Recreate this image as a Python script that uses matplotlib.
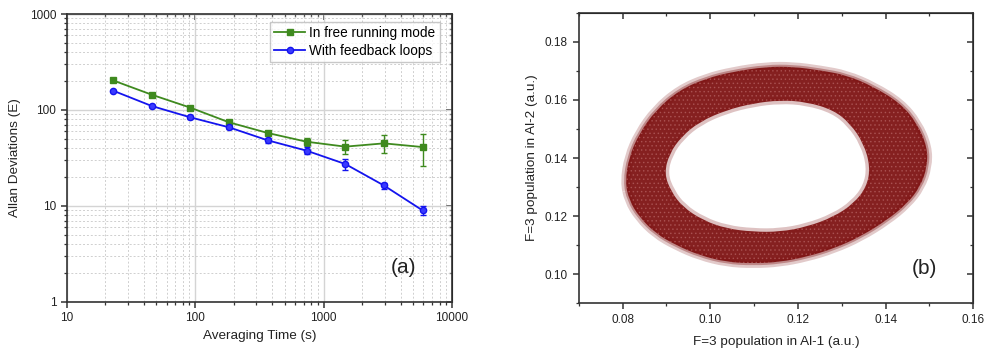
import matplotlib
matplotlib.use("Agg")
import matplotlib.pyplot as plt
from matplotlib.path import Path
from matplotlib.patches import PathPatch
from matplotlib.lines import Line2D
from matplotlib.ticker import LogLocator, NullFormatter, MultipleLocator, FixedLocator
import numpy as np

plt.rcParams['font.family'] = ['Liberation Sans', 'DejaVu Sans']
plt.rcParams['hatch.linewidth'] = 0.6

# ---------------- data: panel (a) ----------------
tau = [23, 46, 92, 184, 369, 737, 1475, 2950, 5900]
free_dev = [203, 144, 105.5, 74.2, 57.4, 46.6, 41.4, 44.8, 41.0]
free_err = [3, 3, 3, 3, 3, 4.5, 6.6, 9.6, 15.0]
fb_dev = [158.7, 109.8, 83.6, 65.8, 48.1, 37.6, 27.3, 16.3, 8.96]
fb_err = [3, 3, 2.5, 2.5, 2.5, 3.0, 3.5, 1.2, 1.0]
legend_labels = ["In free running mode", "With feedback loops"]

# ---------------- data: panel (b) ring contours ----------------
outer_x = [0.0806, 0.0815, 0.0838, 0.0876, 0.0930, 0.0991, 0.1052, 0.1128, 0.1189,
           0.1250, 0.1311, 0.1373, 0.1434, 0.1472, 0.1495, 0.1495, 0.1479, 0.1449,
           0.1403, 0.1342, 0.1281, 0.1220, 0.1159, 0.1098, 0.1037, 0.0976, 0.0922,
           0.0876, 0.0838, 0.0815]
outer_y = [0.1318, 0.1404, 0.1484, 0.1565, 0.1634, 0.1674, 0.1697, 0.1714, 0.1714,
           0.1702, 0.1685, 0.1645, 0.1588, 0.1519, 0.1438, 0.1370, 0.1301, 0.1243,
           0.1186, 0.1129, 0.1088, 0.1060, 0.1042, 0.1037, 0.1042, 0.1065, 0.1100,
           0.1140, 0.1197, 0.1255]
inner_x = [0.0895, 0.0907, 0.0934, 0.0976, 0.1037, 0.1098, 0.1159, 0.1220, 0.1281,
           0.1319, 0.1350, 0.1365, 0.1357, 0.1327, 0.1281, 0.1220, 0.1159, 0.1098,
           0.1037, 0.0983, 0.0937, 0.0911]
inner_y = [0.1347, 0.1415, 0.1473, 0.1525, 0.1565, 0.1588, 0.1599, 0.1593, 0.1565,
           0.1519, 0.1450, 0.1370, 0.1301, 0.1243, 0.1197, 0.1163, 0.1146, 0.1146,
           0.1157, 0.1186, 0.1232, 0.1284]

GREEN = '#3f8a1f'
BLUE = '#1414ee'
RED = '#7c0f0f'


def smooth_closed(xs, ys):
    """Closed quadratic B-spline path through midpoints (rendering only)."""
    P = list(zip(xs, ys))
    n = len(P)
    mids = [((P[i][0] + P[(i + 1) % n][0]) / 2, (P[i][1] + P[(i + 1) % n][1]) / 2)
            for i in range(n)]
    verts = [mids[-1]]
    codes = [Path.MOVETO]
    for i in range(n):
        verts += [P[i], mids[i]]
        codes += [Path.CURVE3, Path.CURVE3]
    return verts, codes


fig = plt.figure(figsize=(9.84, 3.51), dpi=100)

# ================= panel (a) =================
ax = fig.add_axes([0.0678, 0.1405, 0.3915, 0.8195])
ax.set_xscale('log')
ax.set_yscale('log')
ax.set_xlim(10, 10000)
ax.set_ylim(1, 1000)

ax.errorbar(tau, free_dev, yerr=free_err, color=GREEN, lw=1.3, marker='s', ms=4.2,
            capsize=2.5, elinewidth=1.0, capthick=1.0, zorder=3)
ax.errorbar(tau, fb_dev, yerr=fb_err, color=BLUE, lw=1.3, marker='o', ms=4.5,
            mfc='#3a3aff', mec=BLUE, capsize=2.5, elinewidth=1.0, capthick=1.0, zorder=3)

ax.set_xticks([10, 100, 1000, 10000])
ax.set_xticklabels(['10', '100', '1000', '10000'])
ax.set_yticks([1, 10, 100, 1000])
ax.set_yticklabels(['1', '10', '100', '1000'])
ax.xaxis.set_minor_locator(LogLocator(base=10, subs=np.arange(2, 10), numticks=20))
ax.yaxis.set_minor_locator(LogLocator(base=10, subs=np.arange(2, 10), numticks=20))
ax.xaxis.set_minor_formatter(NullFormatter())
ax.yaxis.set_minor_formatter(NullFormatter())

ax.grid(True, which='major', color='#d4d4d4', lw=1.0, ls='-', zorder=0)
ax.grid(True, which='minor', color='#cfcfcf', lw=0.7, ls=(0, (2, 2)), zorder=0)
ax.set_axisbelow(True)

for sp in ax.spines.values():
    sp.set_linewidth(1.2)
    sp.set_color('#333333')

ax.tick_params(which='both', direction='out', top=False, right=False, labelsize=8.5,
               colors='#333333', labelcolor='#222222')
ax.tick_params(which='major', length=4, width=1.1)
ax.tick_params(which='minor', length=2.5, width=0.9)
axt = ax.secondary_xaxis('top')
axt.set_xticks([10, 100, 1000, 10000])
axt.xaxis.set_minor_locator(LogLocator(base=10, subs=np.arange(2, 10), numticks=20))
axt.tick_params(which='both', direction='in', labeltop=False, colors='#333333')
axt.tick_params(which='major', length=4, width=1.1)
axt.tick_params(which='minor', length=2.5, width=0.9)
axt.xaxis.set_minor_formatter(NullFormatter())
axt.set_xticklabels([])
axr = ax.secondary_yaxis('right')
axr.set_yticks([1, 10, 100, 1000])
axr.yaxis.set_minor_locator(LogLocator(base=10, subs=np.arange(2, 10), numticks=20))
axr.tick_params(which='both', direction='in', labelright=False, colors='#333333')
axr.tick_params(which='major', length=4, width=1.1)
axr.tick_params(which='minor', length=2.5, width=0.9)
axr.yaxis.set_minor_formatter(NullFormatter())
axr.set_yticklabels([])

ax.set_xlabel('Averaging Time (s)', fontsize=9.7, color='#222222')
ax.set_ylabel('Allan Deviations (E)', fontsize=9.7, color='#222222')
ax.xaxis.set_label_coords(0.5, -0.098)
ax.yaxis.set_label_coords(-0.118, 0.5)

handles = [Line2D([], [], color=GREEN, lw=1.3, marker='s', ms=4.2),
           Line2D([], [], color=BLUE, lw=1.3, marker='o', ms=4.5, mfc='#3a3aff', mec=BLUE)]
leg = ax.legend(handles, legend_labels, loc='upper right', bbox_to_anchor=(0.968, 0.972),
                fontsize=9.8, frameon=True, fancybox=False, handlelength=2.3,
                handletextpad=0.3, borderpad=0.3, labelspacing=0.25, borderaxespad=0.0)
leg.get_frame().set_edgecolor('#bbbbbb')
leg.get_frame().set_linewidth(1.0)

ax.text(0.875, 0.12, '(a)', transform=ax.transAxes, fontsize=15, ha='center',
        va='center', color='#222222')

# ================= panel (b) =================
bx = fig.add_axes([0.5881, 0.1359, 0.401, 0.8279])
bx.set_xlim(0.07, 0.16)
bx.set_ylim(0.09, 0.19)

ov, oc = smooth_closed(outer_x, outer_y)
iv, ic = smooth_closed(inner_x[::-1], inner_y[::-1])
ring_path = Path(ov + iv, oc + ic)

# fuzzy halo around both contours
bx.add_patch(PathPatch(Path(ov, oc), facecolor='none', edgecolor=RED, lw=7, alpha=0.22,
                       joinstyle='round', zorder=1))
bx.add_patch(PathPatch(Path(ov, oc), facecolor='none', edgecolor=RED, lw=3, alpha=0.35,
                       joinstyle='round', zorder=1))
bx.add_patch(PathPatch(Path(iv, ic), facecolor='none', edgecolor=RED, lw=5, alpha=0.25,
                       joinstyle='round', zorder=1))
# dense core of the point cloud, with a light speckle
bx.add_patch(PathPatch(ring_path, facecolor=RED, edgecolor='none', alpha=0.93, zorder=2))
bx.add_patch(PathPatch(ring_path, facecolor='none', edgecolor='#c07070', lw=0,
                       hatch='....', alpha=0.5, zorder=2.1))

bx.xaxis.set_major_locator(FixedLocator([0.08, 0.10, 0.12, 0.14, 0.16]))
bx.xaxis.set_minor_locator(MultipleLocator(0.01))
bx.yaxis.set_major_locator(FixedLocator([0.10, 0.12, 0.14, 0.16, 0.18]))
bx.yaxis.set_minor_locator(MultipleLocator(0.01))
bx.set_xticklabels(['0.08', '0.10', '0.12', '0.14', '0.16'])
bx.set_yticklabels(['0.10', '0.12', '0.14', '0.16', '0.18'])
for sp in bx.spines.values():
    sp.set_linewidth(1.2)
    sp.set_color('#333333')
bx.tick_params(which='both', direction='out', top=False, right=False, labelsize=8.5,
               colors='#333333', labelcolor='#222222')
bx.tick_params(which='major', length=4.5, width=1.1)
bx.tick_params(which='minor', length=2.5, width=0.9)
bxt = bx.secondary_xaxis('top')
bxt.xaxis.set_major_locator(FixedLocator([0.08, 0.10, 0.12, 0.14, 0.16]))
bxt.xaxis.set_minor_locator(MultipleLocator(0.01))
bxt.tick_params(which='both', direction='in', labeltop=False, colors='#333333')
bxt.tick_params(which='major', length=4.5, width=1.1)
bxt.tick_params(which='minor', length=2.5, width=0.9)
bxr = bx.secondary_yaxis('right')
bxr.yaxis.set_major_locator(FixedLocator([0.10, 0.12, 0.14, 0.16, 0.18]))
bxr.yaxis.set_minor_locator(MultipleLocator(0.01))
bxr.tick_params(which='both', direction='in', labelright=False, colors='#333333')
bxr.tick_params(which='major', length=4.5, width=1.1)
bxr.tick_params(which='minor', length=2.5, width=0.9)

bx.set_xlabel('F=3 population in Al-1 (a.u.)', fontsize=9.7, color='#222222')
bx.set_ylabel('F=3 population in Al-2 (a.u.)', fontsize=9.7, color='#222222')
bx.xaxis.set_label_coords(0.5, -0.113)
bx.yaxis.set_label_coords(-0.103, 0.5)

bx.text(0.875, 0.12, '(b)', transform=bx.transAxes, fontsize=15, ha='center',
        va='center', color='#222222')

fig.savefig('out.png', dpi=100)
